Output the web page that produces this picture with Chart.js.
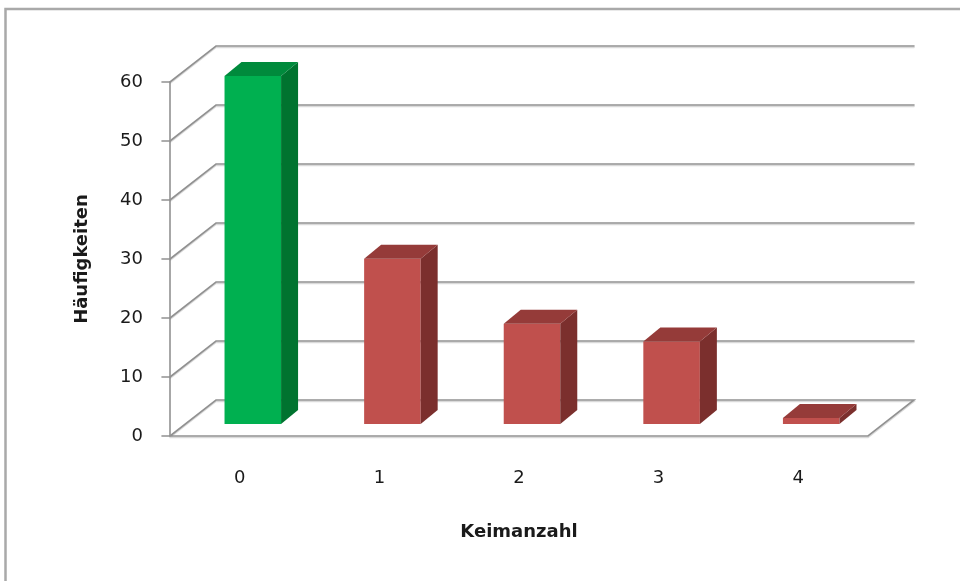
<!DOCTYPE html>
<html>
<head>
<meta charset="utf-8">
<title>Keimanzahl</title>
<script src="https://cdn.jsdelivr.net/npm/chart.js@4.4.0/dist/chart.umd.min.js"></script>
<style>
    body { margin: 0; background: #fff; }
    canvas { display: block; }
</style>
</head>
<body>
<canvas id="barChart" width="960" height="581"></canvas>
<script>
// Häufigkeiten je Keimanzahl
var keimanzahl = ['0', '1', '2', '3', '4'];
var haeufigkeiten = [59, 28, 17, 14, 1];
var yTicks = [0, 10, 20, 30, 40, 50, 60];

// colors: front, side, top
var gruen = ['#00b050', '#00732f', '#008a3c'];
var rot = ['#c0504d', '#7b2f2d', '#953b39'];

var DEPTH_X = 46, DEPTH_Y = -36;   // depth of the walls / floor
var BAR_X = 13, BAR_Y = -12;       // front of the bars sits a bit inside the floor
var SIDE_X = 17, SIDE_Y = -14;     // depth of one bar

var faceColor = function (i, k) {
    return i === 0 ? gruen[k] : rot[k];
};

var line = function (ctx, pts, color, width) {
    ctx.beginPath();
    ctx.moveTo(pts[0][0], pts[0][1]);
    for (var i = 1; i < pts.length; i++) {
        ctx.lineTo(pts[i][0], pts[i][1]);
    }
    ctx.strokeStyle = color;
    ctx.lineWidth = width;
    ctx.stroke();
};

var shadedLine = function (ctx, pts) {
    var low = pts.map(function (p) { return [p[0], p[1] + 1.5]; });
    line(ctx, low, '#dadada', 1.5);
    line(ctx, pts, '#919191', 1.6);
};

var poly = function (ctx, pts, color) {
    ctx.beginPath();
    ctx.moveTo(pts[0][0], pts[0][1]);
    for (var i = 1; i < pts.length; i++) {
        ctx.lineTo(pts[i][0], pts[i][1]);
    }
    ctx.closePath();
    ctx.fillStyle = color;
    ctx.fill();
};

var frame3d = {
    id: 'frame3d',
    beforeDraw: function (chart) {
        var ctx = chart.ctx;
        ctx.save();
        ctx.fillStyle = '#fff';
        ctx.fillRect(0, 0, chart.width, chart.height);
        ctx.strokeStyle = '#a9a9a9';
        ctx.lineWidth = 2.5;
        ctx.strokeRect(5.5, 9, chart.width + 100, chart.height + 100);
        ctx.restore();
    },
    beforeDatasetsDraw: function (chart) {
        var ctx = chart.ctx;
        var area = chart.chartArea;
        var y = chart.scales.y;
        ctx.save();
        ctx.lineCap = 'round';
        // back wall gridlines with the diagonals on the side wall
        yTicks.forEach(function (v) {
            var py = y.getPixelForValue(v);
            if (v > 0) {
                shadedLine(ctx, [[area.left, py], [area.left + DEPTH_X, py + DEPTH_Y], [area.right + DEPTH_X, py + DEPTH_Y]]);
            }
            line(ctx, [[area.left - 8, py], [area.left, py]], '#919191', 1.6);
        });
        // floor
        var b = area.bottom;
        shadedLine(ctx, [[area.left, b], [area.left + DEPTH_X, b + DEPTH_Y], [area.right + DEPTH_X, b + DEPTH_Y],
            [area.right, b], [area.left, b]]);
        // value axis
        line(ctx, [[area.left, area.top], [area.left, area.bottom]], '#919191', 1.6);
        ctx.restore();

        ctx.save();
        ctx.translate(BAR_X, BAR_Y);
    },
    afterDatasetsDraw: function (chart) {
        var ctx = chart.ctx;
        var meta = chart.getDatasetMeta(0);
        meta.data.forEach(function (bar, i) {
            var p = bar.getProps(['x', 'y', 'base', 'width'], true);
            var l = p.x - p.width / 2, r = p.x + p.width / 2;
            poly(ctx, [[r, p.y], [r + SIDE_X, p.y + SIDE_Y], [r + SIDE_X, p.base + SIDE_Y], [r, p.base]], faceColor(i, 1));
            poly(ctx, [[l, p.y], [l + SIDE_X, p.y + SIDE_Y], [r + SIDE_X, p.y + SIDE_Y], [r, p.y]], faceColor(i, 2));
        });
        ctx.restore();
    }
};

var schrift = "'DejaVu Sans', Verdana, sans-serif";

new Chart(document.getElementById('barChart').getContext('2d'), {
    type: 'bar',
    data: {
        labels: keimanzahl,
        datasets: [{
            data: haeufigkeiten,
            backgroundColor: haeufigkeiten.map(function (v, i) { return faceColor(i, 0); }),
            borderWidth: 0,
            barPercentage: 0.405,
            categoryPercentage: 1
        }]
    },
    options: {
        responsive: false,
        animation: false,
        layout: { padding: { top: 82, right: 92, bottom: 0, left: 0 } },
        plugins: {
            legend: { display: false },
            tooltip: { enabled: false }
        },
        scales: {
            x: {
                grid: { display: false, drawTicks: false },
                border: { display: false },
                ticks: { padding: 32, color: '#1a1a1a', font: { family: schrift, size: 18 } },
                title: {
                    display: true,
                    text: 'Keimanzahl',
                    color: '#1a1a1a',
                    font: { family: schrift, size: 18, weight: 'bold' },
                    padding: { top: 0, bottom: 38 }
                },
                afterFit: function (scale) { scale.height = 145; }
            },
            y: {
                min: yTicks[0],
                max: yTicks[yTicks.length - 1],
                grid: { display: false, drawTicks: false },
                border: { display: false },
                ticks: { stepSize: yTicks[1] - yTicks[0], padding: 27, color: '#1a1a1a', font: { family: schrift, size: 18 } },
                title: {
                    display: true,
                    text: 'Häufigkeiten',
                    color: '#1a1a1a',
                    font: { family: schrift, size: 18, weight: 'bold' },
                    padding: { top: 72, bottom: 0 }
                },
                afterFit: function (scale) { scale.width = 170; }
            }
        }
    },
    plugins: [frame3d]
});
</script>
</body>
</html>
